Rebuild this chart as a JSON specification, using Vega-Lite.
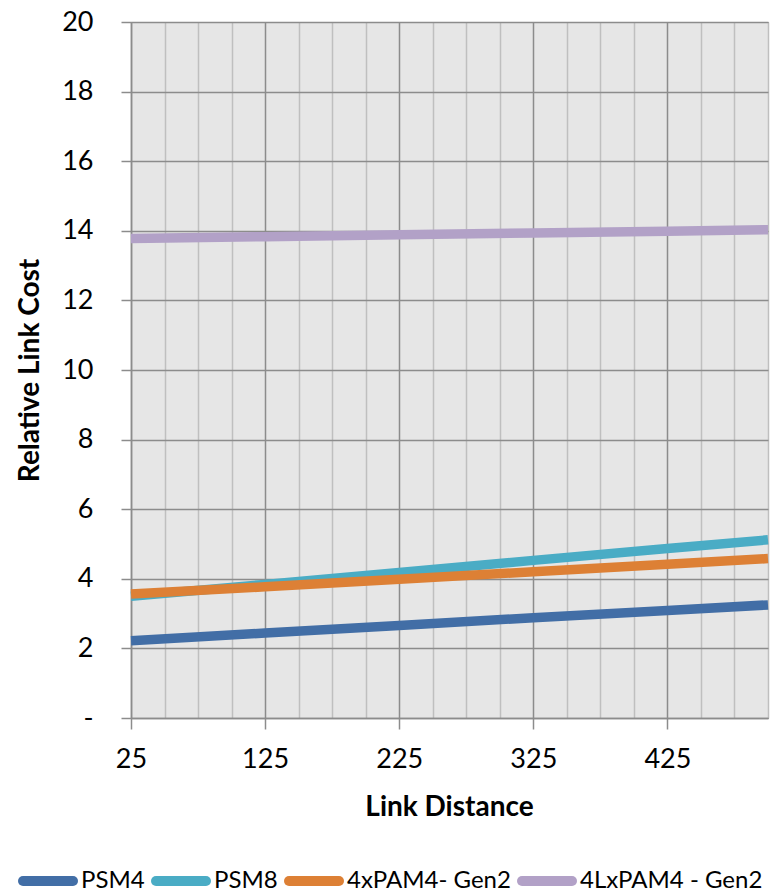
{
  "$schema": "https://vega.github.io/schema/vega-lite/v6.json",
  "width": 637,
  "height": 696,
  "autosize": {"type": "none"},
  "padding": {"left": 131, "top": 22, "right": 12, "bottom": 174},
  "background": "white",
  "config": {
    "font": "Lato",
    "view": {"fill": "#e6e6e6", "stroke": "#8c8c8c", "strokeWidth": 1}
  },
  "data": {
    "values": [
      {"dist": 25, "cost": 2.22, "series": "PSM4"},
      {"dist": 125, "cost": 2.44, "series": "PSM4"},
      {"dist": 225, "cost": 2.66, "series": "PSM4"},
      {"dist": 325, "cost": 2.88, "series": "PSM4"},
      {"dist": 425, "cost": 3.09, "series": "PSM4"},
      {"dist": 500, "cost": 3.25, "series": "PSM4"},
      {"dist": 25, "cost": 3.5, "series": "PSM8"},
      {"dist": 125, "cost": 3.84, "series": "PSM8"},
      {"dist": 225, "cost": 4.18, "series": "PSM8"},
      {"dist": 325, "cost": 4.53, "series": "PSM8"},
      {"dist": 425, "cost": 4.87, "series": "PSM8"},
      {"dist": 500, "cost": 5.12, "series": "PSM8"},
      {"dist": 25, "cost": 3.56, "series": "4xPAM4- Gen2"},
      {"dist": 125, "cost": 3.77, "series": "4xPAM4- Gen2"},
      {"dist": 225, "cost": 3.99, "series": "4xPAM4- Gen2"},
      {"dist": 325, "cost": 4.2, "series": "4xPAM4- Gen2"},
      {"dist": 425, "cost": 4.42, "series": "4xPAM4- Gen2"},
      {"dist": 500, "cost": 4.58, "series": "4xPAM4- Gen2"},
      {"dist": 25, "cost": 13.78, "series": "4LxPAM4 - Gen2"},
      {"dist": 125, "cost": 13.83, "series": "4LxPAM4 - Gen2"},
      {"dist": 225, "cost": 13.89, "series": "4LxPAM4 - Gen2"},
      {"dist": 325, "cost": 13.94, "series": "4LxPAM4 - Gen2"},
      {"dist": 425, "cost": 13.99, "series": "4LxPAM4 - Gen2"},
      {"dist": 500, "cost": 14.03, "series": "4LxPAM4 - Gen2"}
    ]
  },
  "mark": {"type": "line", "strokeWidth": 9.5, "strokeCap": "butt"},
  "encoding": {
    "x": {
      "field": "dist",
      "type": "quantitative",
      "scale": {"domain": [25, 500], "nice": false, "zero": false},
      "axis": {
        "values": [25, 50, 75, 100, 125, 150, 175, 200, 225, 250, 275, 300, 325, 350, 375, 400, 425, 450, 475, 500],
        "title": "Link Distance",
        "titleFont": "Lato",
        "titleFontSize": 28,
        "titleFontWeight": "bold",
        "titleColor": "black",
        "titleX": 318,
        "titleY": 97,
        "titleBaseline": "alphabetic",
        "titleAlign": "center",
        "labelExpr": "((datum.value - 25) % 100 === 0 && datum.value < 500) ? datum.label : ''",
        "labelFont": "Lato",
        "labelFontSize": 27,
        "labelColor": "black",
        "labelPadding": 17,
        "labelFlush": false,
        "labelOverlap": false,
        "grid": true,
        "gridColor": {"condition": {"test": "(datum.value - 25) % 100 === 0", "value": "#8c8c8c"}, "value": "#bfbfbf"},
        "gridWidth": 1.5,
        "ticks": true,
        "tickSize": 11,
        "tickColor": "#8c8c8c",
        "tickOpacity": {"condition": {"test": "(datum.value - 25) % 100 === 0 && datum.value < 500", "value": 1}, "value": 0},
        "tickWidth": 1.5,
        "domainColor": "#8c8c8c",
        "domainWidth": 1.5
      }
    },
    "y": {
      "field": "cost",
      "type": "quantitative",
      "scale": {"domain": [0, 20], "nice": false},
      "axis": {
        "values": [0, 2, 4, 6, 8, 10, 12, 14, 16, 18, 20],
        "title": "Relative Link Cost",
        "titleFont": "Lato",
        "titleFontSize": 28,
        "titleFontWeight": "bold",
        "titleColor": "black",
        "titleAngle": 270,
        "titleX": -101,
        "titleY": 348,
        "titleAlign": "center",
        "titleBaseline": "middle",
        "labelExpr": "datum.value === 0 ? '-' : datum.label",
        "labelFont": "Lato",
        "labelFontSize": 27,
        "labelColor": "black",
        "labelPadding": 28,
        "labelFlush": false,
        "labelOverlap": false,
        "grid": true,
        "gridColor": "#8c8c8c",
        "gridWidth": 1.5,
        "tickSize": 10,
        "tickColor": "#8c8c8c",
        "tickWidth": 1.5,
        "domainColor": "#8c8c8c",
        "domainWidth": 1.5
      }
    },
    "color": {
      "field": "series",
      "type": "nominal",
      "scale": {
        "domain": ["PSM4", "PSM8", "4xPAM4- Gen2", "4LxPAM4 - Gen2"],
        "range": ["#426ea6", "#4aacc5", "#dd8035", "#b2a1c7"]
      },
      "legend": {
        "title": null,
        "orient": "none",
        "direction": "horizontal",
        "legendX": -113,
        "legendY": 829,
        "symbolType": "M-1,0H1",
        "symbolSize": 2500,
        "symbolStrokeWidth": 10,
        "labelFont": "Lato",
        "labelFontSize": 24,
        "labelColor": "black",
        "labelOffset": 3,
        "columnPadding": -9,
        "labelLimit": 400,
        "encode": {"symbols": {"update": {"strokeCap": {"value": "round"}}}}
      }
    }
  }
}
